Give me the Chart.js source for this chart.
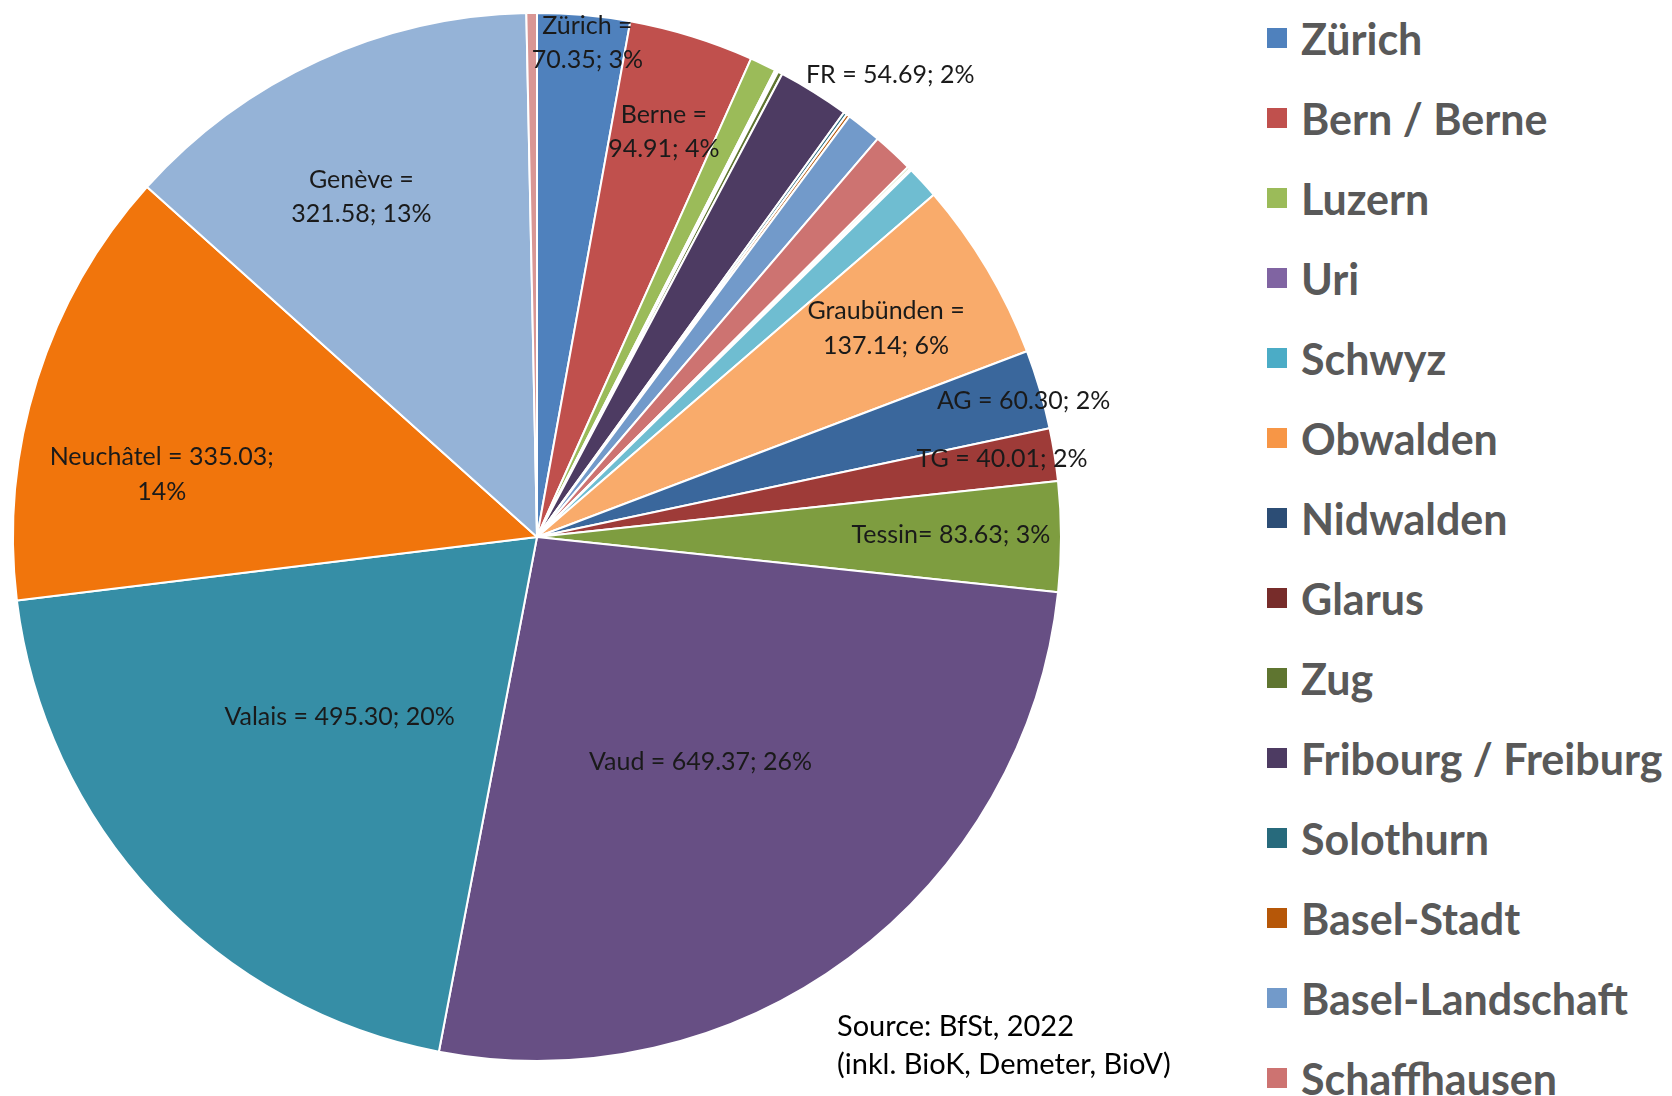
<!DOCTYPE html>
<html>
<head>
<meta charset="utf-8">
<script src="https://cdn.jsdelivr.net/npm/chart.js@4.4.0/dist/chart.umd.min.js"></script>
<style>
  html, body { margin: 0; padding: 0; background: #fff; width: 1672px; height: 1096px; overflow: hidden; }
  #wrap { position: relative; width: 1672px; height: 1096px; overflow: hidden; }
  #pie { position: absolute; left: 0; top: 0; }
  #legend { position: absolute; left: 1267px; top: -2px; width: 405px; height: 1098px; overflow: hidden; }
  .voce { height: 80px; display: flex; align-items: center; white-space: nowrap;
          font: bold 43px Lato, sans-serif; color: #595959; }
  .quadrato { width: 20px; height: 20px; margin-right: 14px; flex: none; }
  #fonte { position: absolute; left: 837px; top: 1006px; font: 29px Lato, sans-serif;
           line-height: 38px; color: #000; white-space: nowrap; }
</style>
</head>
<body>
<div id="wrap">
  <canvas id="pie" width="1250" height="1096"></canvas>
  <div id="legend"></div>
  <div id="fonte">Source: BfSt, 2022<br>(inkl. BioK, Demeter, BioV)</div>
</div>

<script>
// dati: superficie bio per cantone
var cantoni = ["Zürich", "Bern / Berne", "Luzern", "Uri", "Schwyz", "Obwalden", "Nidwalden", "Glarus", "Zug",
  "Fribourg / Freiburg", "Solothurn", "Basel-Stadt", "Basel-Landschaft", "Schaffhausen",
  "Appenzell Ausserrhoden", "Appenzell Innerrhoden", "St. Gallen", "Graubünden", "Aargau", "Thurgau",
  "Tessin / Ticino", "Vaud", "Valais / Wallis", "Neuchâtel", "Genève", "Jura"];

var superficie = [70.35, 94.91, 20, 0, 1.5, 0.5, 0.5, 0, 3.5,
  54.69, 2.5, 2.5, 27, 31,
  2, 1.5, 25, 137.14, 60.30, 40.01,
  83.63, 649.37, 495.30, 335.03, 321.58, 8];

var etichette = ["Zürich =\n70.35; 3%", "Berne =\n94.91; 4%", null, null, null, null, null, null, null,
  "FR = 54.69; 2%", null, null, null, null,
  null, null, null, "Graubünden =\n137.14; 6%", "AG = 60.30; 2%", "TG = 40.01; 2%",
  "Tessin= 83.63; 3%", "Vaud = 649.37; 26%", "Valais = 495.30; 20%", "Neuchâtel = 335.03;\n14%", "Genève =\n321.58; 13%", null];

var colori = ["#4F81BD", "#C0504D", "#9BBB59", "#8064A2", "#4BACC6", "#F79646", "#2C4D75", "#772C2A", "#5F7530",
  "#4D3B62", "#276A7C", "#B65708", "#729ACA", "#CD7371",
  "#AFC97A", "#9983B5", "#6FBDD1", "#F9AB6B", "#3A679C", "#9E3B38",
  "#7E9D40", "#674F84", "#368EA6", "#F1750C", "#95B3D7", "#D99694"];

// posizione etichette: frazione del raggio e scarto angolare (gradi)
var posizione = {
  0: { f: 0.948, a: 0.7 },
  1: { f: 0.81, a: 0.2 },
  9: { f: 1.11, a: 5.5 },
  17: { f: 0.776, a: -0.1 },
  18: { f: 0.964, a: 0.8 },
  19: { f: 0.90, a: -0.5 },
  20: { f: 0.79, a: -0.3 },
  21: { f: 0.53, a: 0.5 },
  22: { f: 0.51, a: 0.7 },
  23: { f: 0.726, a: -8 },
  24: { f: 0.73, a: -2.7 }
};

//stampo legenda
var legenda = document.getElementById('legend');
cantoni.forEach(function (nome, i) {
  var riga = document.createElement('div');
  riga.className = 'voce';
  riga.innerHTML = '<span class="quadrato" style="background:' + colori[i] + '"></span>' + nome;
  legenda.appendChild(riga);
});

//etichette dei dati
var etichettePlugin = {
  id: 'etichette',
  afterDatasetsDraw: function (chart) {
    var ctx = chart.ctx;
    var archi = chart.getDatasetMeta(0).data;
    ctx.save();
    ctx.font = '25px Lato';
    ctx.fillStyle = '#1a1a1a';
    ctx.textAlign = 'center';
    ctx.textBaseline = 'middle';
    archi.forEach(function (arco, i) {
      if (!etichette[i]) return;
      var p = posizione[i];
      var a = arco.getProps(['x', 'y', 'startAngle', 'endAngle', 'outerRadius'], true);
      var ang = (a.startAngle + a.endAngle) / 2 + p.a * Math.PI / 180;
      var r = a.outerRadius * p.f;
      var cx = a.x + Math.cos(ang) * r;
      var cy = a.y + Math.sin(ang) * r;
      var righe = etichette[i].split('\n');
      righe.forEach(function (t, k) {
        ctx.fillText(t, cx, cy + (k - (righe.length - 1) / 2) * 34.5);
      });
    });
    ctx.restore();
  }
};

//stampo grafico a torta
var chart = new Chart(document.getElementById('pie'), {
  type: 'pie',
  data: {
    labels: cantoni,
    datasets: [{
      data: superficie,
      backgroundColor: colori,
      borderColor: '#ffffff',
      borderWidth: 2
    }]
  },
  options: {
    responsive: false,
    animation: false,
    events: [],
    layout: { padding: { left: 12, top: 12, right: 188, bottom: 34 } },
    plugins: {
      legend: { display: false },
      tooltip: { enabled: false }
    }
  },
  plugins: [etichettePlugin]
});
</script>
</body>
</html>
